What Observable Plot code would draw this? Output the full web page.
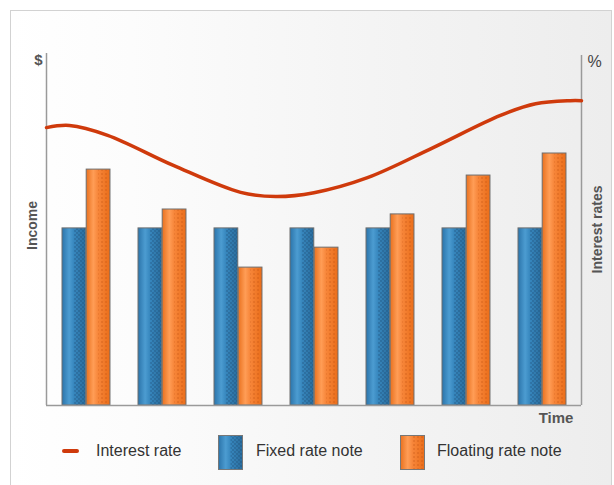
<!DOCTYPE html>
<html>
<head>
<meta charset="utf-8">
<script src="https://cdn.jsdelivr.net/npm/d3@7"></script>
<script src="https://cdn.jsdelivr.net/npm/@observablehq/plot@0.6"></script>
<style>
  body { margin: 0; font-family: "Liberation Sans", Arial, sans-serif; }
  #wrap { position: relative; width: 614px; height: 485px; overflow: hidden; background: #fff; }
  #panel { position: absolute; left: 10px; top: 10px; width: 600px; height: 490px; border: 1px solid #d2d2d2;
    background: linear-gradient(to right, #ffffff 0%, #fcfcfc 20%, #f4f4f4 60%, #ededed 100%); }
  .layer { position: absolute; left: 0; top: 0; }
  .lg { position: absolute; font-size: 16px; line-height: 20px; color: #333; white-space: nowrap; }
</style>
</head>
<body>
<div id="wrap">
  <div id="panel"></div>
  <div id="bars" class="layer"></div>
  <div id="lines" class="layer"></div>
  <div id="legend"></div>
</div>
<script>
// Data
const periods = ["1", "2", "3", "4", "5", "6", "7"];
const fixedIncome = [50.6, 50.6, 50.6, 50.6, 50.6, 50.6, 50.6];
const floatingIncome = [67.4, 56.0, 39.4, 45.1, 54.6, 65.7, 72.0];
const rateTime = [0, 0.3, 0.8, 1.66, 2.54, 3.0, 3.5, 4.2, 5.06, 5.94, 6.4, 6.85, 7];
const rateValue = [7.94, 8.0, 7.72, 6.86, 6.09, 5.97, 6.08, 6.51, 7.37, 8.29, 8.62, 8.71, 8.71];
const legendLabels = ["Interest rate", "Fixed rate note", "Floating rate note"];
const axisTexts = { leftUnit: "$", rightUnit: "%", leftTitle: "Income", rightTitle: "Interest rates", xTitle: "Time" };

const barRows = periods.map((p, i) => ({ period: p, fixed: fixedIncome[i], floating: floatingIncome[i] }));
const rateRows = rateTime.map((t, i) => ({ t, rate: rateValue[i] }));

const W = 614, H = 430;
const margins = { marginLeft: 46, marginRight: 33, marginTop: 55, marginBottom: 25 };
const bw = (W - 46 - 33) / 7;
const pairLeft = 14, barW = 24.2;
const common = { width: W, height: H, ...margins, style: { background: "none", fontFamily: "Liberation Sans, Arial, sans-serif", overflow: "visible" } };

const barPlot = Plot.plot({
  ...common,
  x: { domain: periods, padding: 0, axis: null },
  y: { domain: [0, 100], axis: null },
  marks: [
    Plot.barY(barRows, { x: "period", y: "fixed", fill: "url(#gBlue)", stroke: "#6e6e6e", strokeWidth: 1,
      insetLeft: pairLeft, insetRight: bw - pairLeft - barW }),
    Plot.barY(barRows, { x: "period", y: "fixed", fill: "url(#pBlue)",
      insetLeft: pairLeft + barW * 0.5, insetRight: bw - pairLeft - barW + 0.6, insetTop: 0.6 }),
    Plot.barY(barRows, { x: "period", y: "floating", fill: "url(#gOrange)", stroke: "#6e6e6e", strokeWidth: 1,
      insetLeft: pairLeft + barW, insetRight: bw - pairLeft - 2 * barW }),
    Plot.barY(barRows, { x: "period", y: "floating", fill: "url(#pOrange)",
      insetLeft: pairLeft + barW * 1.5, insetRight: bw - pairLeft - 2 * barW + 0.6, insetTop: 0.6 })
  ]
});

d3.select(barPlot).insert("defs", ":first-child").html(`
  <linearGradient id="gBlue" x1="0" x2="1" y1="0" y2="0">
    <stop offset="0" stop-color="#2b74aa"/>
    <stop offset="0.3" stop-color="#4c9cd1"/>
    <stop offset="0.5" stop-color="#3787be"/>
    <stop offset="1" stop-color="#2a6d9d"/>
  </linearGradient>
  <linearGradient id="gOrange" x1="0" x2="1" y1="0" y2="0">
    <stop offset="0" stop-color="#e9711f"/>
    <stop offset="0.3" stop-color="#ff9d56"/>
    <stop offset="0.5" stop-color="#f7863a"/>
    <stop offset="1" stop-color="#ea6d19"/>
  </linearGradient>
  <pattern id="pBlue" width="4" height="4" patternUnits="userSpaceOnUse">
    <circle cx="1" cy="1" r="0.9" fill="#1b4a72" opacity="0.45"/>
    <circle cx="3" cy="3" r="0.9" fill="#1b4a72" opacity="0.45"/>
  </pattern>
  <pattern id="pOrange" width="4" height="4" patternUnits="userSpaceOnUse">
    <circle cx="2" cy="2" r="0.8" fill="#b8480a" opacity="0.55"/>
  </pattern>
`);
document.getElementById("bars").append(barPlot);

const textStyle = { fontWeight: "bold", fill: "#555", fontSize: 14, lineAnchor: "middle" };
const linePlot = Plot.plot({
  ...common,
  x: { domain: [0, 7], axis: null },
  y: { domain: [0, 10], axis: null },
  marks: [
    Plot.ruleX([0], { y1: 0, y2: 10.06, stroke: "#9a9a9a", strokeWidth: 1.5 }),
    Plot.ruleX([7], { y1: 0, y2: 10, stroke: "#9a9a9a", strokeWidth: 1.5 }),
    Plot.ruleY([0], { stroke: "#9a9a9a", strokeWidth: 1.5 }),
    Plot.line(rateRows, { x: "t", y: "rate", stroke: "#cf3a0c", strokeWidth: 3.5, curve: "catmull-rom" }),
    Plot.text([axisTexts.leftUnit], { ...textStyle, fontSize: 15, frameAnchor: "top-left", dx: -8, dy: 5, textAnchor: "middle" }),
    Plot.text([axisTexts.rightUnit], { ...textStyle, fontWeight: "normal", fill: "#444", fontSize: 16, frameAnchor: "top-right", dx: 13, dy: 6, textAnchor: "middle" }),
    Plot.text([axisTexts.leftTitle], { ...textStyle, frameAnchor: "left", rotate: -90, dx: -13.5, dy: -5, textAnchor: "middle" }),
    Plot.text([axisTexts.rightTitle], { ...textStyle, frameAnchor: "right", rotate: -90, dx: 16, dy: -1, textAnchor: "middle" }),
    Plot.text([axisTexts.xTitle], { ...textStyle, fontSize: 15, frameAnchor: "bottom-right", dx: -25.5, dy: 12.5, textAnchor: "middle" })
  ]
});
document.getElementById("lines").append(linePlot);

// Legend
const legend = document.getElementById("legend");
legend.innerHTML = `
  <div style="position:absolute;left:62px;top:449px;width:17px;height:4px;background:#cf3a0c;border-radius:2px"></div>
  <div class="lg" style="left:96px;top:441px">${legendLabels[0]}</div>
  <svg style="position:absolute;left:218px;top:435px" width="25" height="35">
    <rect x="0.5" y="0.5" width="24" height="34" fill="url(#gBlue)" stroke="#777"/>
    <rect x="12.5" y="1" width="11.5" height="33" fill="url(#pBlue)"/>
  </svg>
  <div class="lg" style="left:256px;top:441px">${legendLabels[1]}</div>
  <svg style="position:absolute;left:400px;top:435px" width="25" height="35">
    <rect x="0.5" y="0.5" width="24" height="34" fill="url(#gOrange)" stroke="#777"/>
    <rect x="12.5" y="1" width="11.5" height="33" fill="url(#pOrange)"/>
  </svg>
  <div class="lg" style="left:437px;top:441px">${legendLabels[2]}</div>
`;
</script>
</body>
</html>
